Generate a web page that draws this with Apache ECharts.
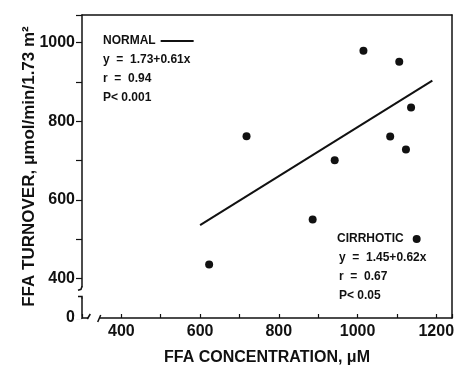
<!DOCTYPE html>
<html>
<head>
<meta charset="utf-8">
<script src="https://cdn.jsdelivr.net/npm/echarts@6/dist/echarts.min.js"></script>
<style>
  html, body { margin: 0; padding: 0; background: #fff; }
  #chart { width: 457px; height: 366px; }
</style>
</head>
<body>
<div id="chart"></div>
<script>
// cirrhotic patients: FFA concentration (µM) vs FFA turnover
const cirrhoticConc = [623, 718, 886, 942, 1015, 1083, 1106, 1123, 1136];
const cirrhoticTurnover = [436, 762, 550, 701, 979, 761, 951, 728, 835];

// regression line of the normal subjects (end points)
const normalConc = [600, 1190];
const normalTurnover = [536, 903];

const normalStats = ['y  =  1.73+0.61x', 'r  =  0.94', 'P< 0.001'];
const cirrhoticStats = ['y  =  1.45+0.62x', 'r  =  0.67', 'P< 0.05'];

// tick labels
const xTickLabels = [400, 600, 800, 1000, 1200];
const yTickLabels = [400, 600, 800, 1000];
const yBreakLabel = '0';

// axis ranges, the break hides everything below the axis minimum
const X_MIN = 300, X_MAX = 1240;
const Y_MIN = 300, Y_MAX = 1070;
const xBreak = [316, 345];
const yBreak = [352, 378];

const INK = '#111';
const FONT = '"Liberation Sans", Arial, sans-serif';

const chart = echarts.init(document.getElementById('chart'));

const frameAxis = {
  type: 'value',
  axisLine: { show: true, onZero: false, lineStyle: { color: INK, width: 1.5 } },
  axisTick: { show: false },
  axisLabel: { show: false },
  splitLine: { show: false },
};

const option = {
  animation: false,
  grid: { left: 82, right: 5, top: 15, bottom: 48, outerBoundsMode: 'none' },
  legend: [
    {
      data: ['NORMAL'],
      left: 103,
      top: 35,
      padding: 0,
      align: 'right',
      icon: 'rect',
      itemWidth: 33,
      itemHeight: 2,
      itemStyle: { color: INK },
      selectedMode: false,
      textStyle: { color: INK, fontFamily: FONT, fontSize: 12, fontWeight: 'bold' },
    },
    {
      data: ['CIRRHOTIC'],
      left: 337,
      top: 233,
      padding: 0,
      align: 'right',
      icon: 'circle',
      itemWidth: 8,
      itemHeight: 8,
      itemStyle: { color: INK, opacity: 1 },
      selectedMode: false,
      textStyle: { color: INK, fontFamily: FONT, fontSize: 12, fontWeight: 'bold', padding: [0, 4, 0, 0] },
    },
  ],
  xAxis: [
    {
      type: 'value',
      position: 'bottom',
      min: X_MIN,
      max: X_MAX,
      interval: 100,
      axisLine: { onZero: false, lineStyle: { color: INK, width: 1.5 } },
      axisTick: { inside: true, length: 4, lineStyle: { color: INK, width: 1.2 } },
      axisLabel: {
        margin: 6,
        color: INK,
        fontFamily: FONT,
        fontSize: 16,
        fontWeight: 'bold',
        formatter: (v) => (xTickLabels.includes(v) ? String(v) : ''),
      },
      splitLine: { show: false },
      name: 'FFA CONCENTRATION, μM',
      nameLocation: 'middle',
      nameGap: 32,
      nameMoveOverlap: false,
      nameTextStyle: { color: INK, fontFamily: FONT, fontSize: 16, fontWeight: 'bold' },
    },
    Object.assign({}, frameAxis, { position: 'top', min: X_MIN, max: X_MAX }),
  ],
  yAxis: [
    {
      type: 'value',
      position: 'left',
      min: Y_MIN,
      max: Y_MAX,
      interval: 100,
      axisLine: { onZero: false, lineStyle: { color: INK, width: 1.5 } },
      axisTick: { inside: false, length: 6, lineStyle: { color: INK, width: 1.2 } },
      axisLabel: {
        margin: 7,
        color: INK,
        fontFamily: FONT,
        fontSize: 16,
        fontWeight: 'bold',
        formatter: (v) => {
          if (v === Y_MIN) return yBreakLabel;
          return yTickLabels.includes(v) ? String(v) : '';
        },
      },
      splitLine: { show: false },
      name: 'FFA TURNOVER, μmol/min/1.73 m²',
      nameLocation: 'middle',
      nameGap: 44,
      nameMoveOverlap: false,
      nameTextStyle: { color: INK, fontFamily: FONT, fontSize: 17, fontWeight: 'bold' },
    },
    Object.assign({}, frameAxis, { position: 'right', min: Y_MIN, max: Y_MAX }),
  ],
  series: [
    {
      name: 'NORMAL',
      type: 'line',
      data: normalConc.map((x, i) => [x, normalTurnover[i]]),
      symbol: 'none',
      lineStyle: { color: INK, width: 2 },
      itemStyle: { color: INK },
      silent: true,
    },
    {
      name: 'CIRRHOTIC',
      type: 'scatter',
      data: cirrhoticConc.map((x, i) => [x, cirrhoticTurnover[i]]),
      symbol: 'circle',
      symbolSize: 8,
      itemStyle: { color: INK, opacity: 1 },
      silent: true,
    },
  ],
};

chart.setOption(option);

// statistics text blocks and axis break marks
const statText = (lines, left, top) =>
  lines.map((t, i) => ({
    type: 'text',
    left: left,
    top: top + i * 19,
    style: { text: t, fill: INK, font: 'bold 12px ' + FONT },
  }));

const px = (x, y) => chart.convertToPixel({ gridIndex: 0 }, [x, y]);
const [ax, ay] = px(X_MIN, Y_MIN);
const yHi = px(X_MIN, yBreak[1])[1];
const yLo = px(X_MIN, yBreak[0])[1];
const xLo = px(xBreak[0], Y_MIN)[0];
const xHi = px(xBreak[1], Y_MIN)[0];
const white = { fill: '#fff' };
const ink = { stroke: INK, lineWidth: 1.5, fill: null };

const breakMarks = [
  // gap in the y axis
  { type: 'rect', shape: { x: ax - 3, y: yHi, width: 6, height: yLo - yHi }, style: white, z: 100 },
  { type: 'polyline', shape: { points: [[ax, yHi - 1], [ax - 1, yHi + 2], [ax - 4, yHi + 3]] }, style: ink, z: 101 },
  { type: 'polyline', shape: { points: [[ax - 4, yLo - 1], [ax, yLo - 1], [ax, yLo + 1]] }, style: ink, z: 101 },
  // no tick at the corner
  { type: 'rect', shape: { x: ax - 8, y: ay - 1.5, width: 7.2, height: 3 }, style: white, z: 100 },
  // gap in the x axis
  { type: 'rect', shape: { x: xLo, y: ay - 2, width: xHi - xLo, height: 4 }, style: white, z: 100 },
  { type: 'line', shape: { x1: xLo - 1, y1: ay + 1, x2: xLo + 2, y2: ay - 4 }, style: ink, z: 101 },
  { type: 'line', shape: { x1: xHi - 2, y1: ay + 4, x2: xHi + 1, y2: ay - 3 }, style: ink, z: 101 },
];

chart.setOption({
  graphic: [].concat(
    statText(normalStats, 103, 54),
    statText(cirrhoticStats, 339, 252),
    breakMarks
  ),
});
</script>
</body>
</html>
